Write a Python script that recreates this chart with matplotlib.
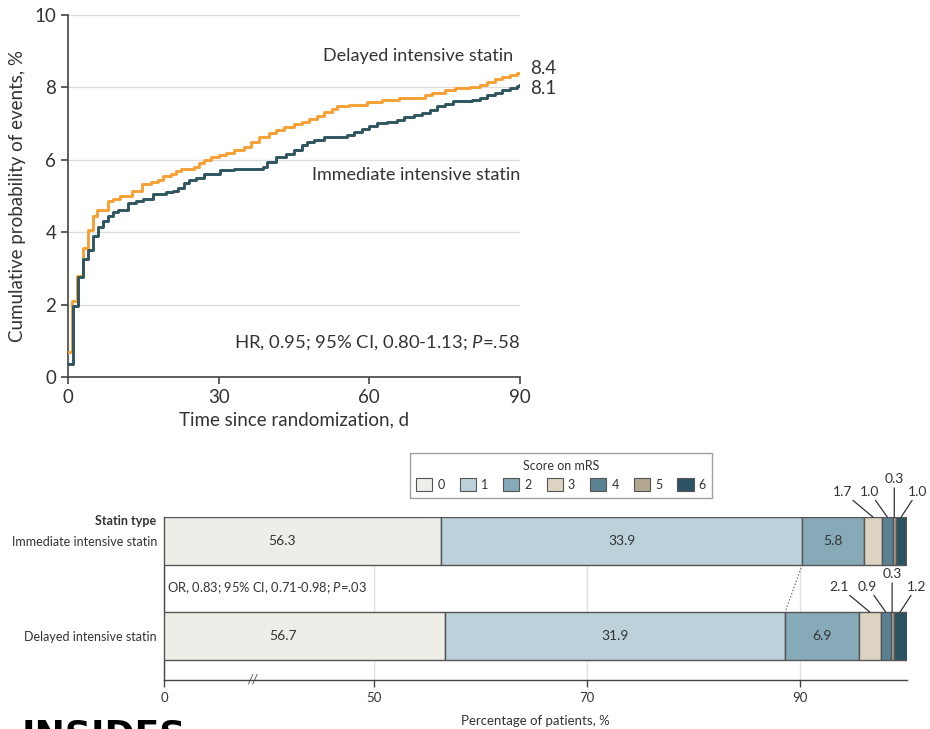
import numpy as np
import matplotlib
matplotlib.use('Agg')
import matplotlib.pyplot as plt
from matplotlib import font_manager
from matplotlib.patches import Patch

# Kaplan-Meier style cumulative event curves
delayed_days = [0, 0.7, 1.8, 2.9, 3.9, 4.9, 5.8, 8.0, 9.0, 10.4, 12.8, 14.8, 16.5, 18.0, 19.0,
                20.5, 21.5, 22.5, 25.0, 26.0, 27.0, 28.5, 30.0, 31.5, 33.0, 35.0, 36.5, 38.0,
                40.0, 41.5, 43.0, 45.0, 46.5, 48.0, 49.5, 51.0, 52.5, 53.5, 56.0, 59.5, 62.5,
                66.0, 71.0, 72.5, 75.0, 77.0, 80.0, 82.0, 83.5, 85.0, 86.5, 88.0, 89.5, 90]
delayed_vals = [0.7, 2.1, 2.8, 3.55, 4.05, 4.45, 4.62, 4.85, 4.92, 5.0, 5.15, 5.32, 5.38, 5.45,
                5.55, 5.6, 5.68, 5.75, 5.8, 5.9, 6.0, 6.07, 6.12, 6.2, 6.28, 6.35, 6.5, 6.62,
                6.75, 6.82, 6.9, 6.98, 7.05, 7.12, 7.22, 7.32, 7.4, 7.5, 7.52, 7.6, 7.65, 7.72,
                7.78, 7.85, 7.92, 7.98, 8.02, 8.08, 8.15, 8.22, 8.28, 8.35, 8.4, 8.4]

immediate_days = [0, 1.0, 2.0, 3.0, 4.0, 5.0, 6.0, 7.0, 8.0, 9.0, 10.0, 12.0, 13.5, 15.0, 17.0,
                  19.5, 21.0, 22.0, 23.0, 24.0, 25.5, 27.0, 29.5, 30.3, 33.0, 38.8, 39.6, 41.5,
                  43.5, 45.0, 46.5, 47.5, 49.0, 51.0, 55.5, 57.0, 58.5, 60.0, 61.5, 63.5, 65.5,
                  67.0, 68.8, 70.5, 72.0, 73.5, 75.0, 76.7, 80.5, 82.0, 83.5, 85.0, 86.5, 88.0,
                  89.5, 90]
immediate_vals = [0.35, 1.95, 2.75, 3.27, 3.5, 3.9, 4.15, 4.3, 4.45, 4.55, 4.6, 4.8, 4.85, 4.92,
                  5.05, 5.1, 5.15, 5.22, 5.35, 5.45, 5.5, 5.6, 5.62, 5.72, 5.75, 5.8, 5.95, 6.08,
                  6.15, 6.27, 6.4, 6.5, 6.55, 6.62, 6.68, 6.78, 6.85, 6.92, 7.02, 7.05, 7.1,
                  7.18, 7.24, 7.3, 7.38, 7.48, 7.55, 7.62, 7.66, 7.72, 7.78, 7.85, 7.92, 7.98,
                  8.05, 8.08]

# mRS distribution, %
groups = ['Immediate intensive statin', 'Delayed intensive statin']
mrs_scores = ['0', '1', '2', '3', '4', '5', '6']
immediate_mrs = [56.3, 33.9, 5.8, 1.7, 1.0, 0.3, 1.0]
delayed_mrs = [56.7, 31.9, 6.9, 2.1, 0.9, 0.3, 1.2]
mrs_colors = ['#EEEDE7', '#BDD1DA', '#86AAB8', '#DCD3C3', '#5B8292', '#B3A792', '#2B5361']

names = {f.name for f in font_manager.fontManager.ttflist}
main_font = 'Lato' if 'Lato' in names else 'DejaVu Sans'
narrow_font = 'Liberation Sans Narrow' if 'Liberation Sans Narrow' in names else main_font

plt.rcParams['font.family'] = [main_font, 'DejaVu Sans']
plt.rcParams['mathtext.fontset'] = 'custom'
plt.rcParams['mathtext.it'] = main_font + ':italic'
plt.rcParams['mathtext.rm'] = main_font

txt = '#333333'
spine = '#444444'

fig = plt.figure(figsize=(9.3, 7.29), dpi=100)

# ---------- top: cumulative events ----------
ax = fig.add_axes([68/930, 1-377/729, 452/930, 362/729])
ax.step(delayed_days, delayed_vals, where='post', color='#F7A035', lw=2.1, zorder=3)
ax.step(immediate_days, immediate_vals, where='post', color='#2E5560', lw=2.1, zorder=4)
ax.set_xlim(0, 90)
ax.set_ylim(0, 10)
ax.set_xticks([0, 30, 60, 90])
ax.set_yticks([0, 2, 4, 6, 8, 10])
ax.yaxis.grid(True, color='#dddddd', lw=1)
ax.set_axisbelow(True)
for s in ['top', 'right']:
    ax.spines[s].set_visible(False)
for s in ['left', 'bottom']:
    ax.spines[s].set_color(spine)
    ax.spines[s].set_linewidth(1.2)
ax.tick_params(labelsize=13.5, colors=spine, labelcolor=txt, length=5, width=1.2)
ax.set_xlabel('Time since randomization, d', fontsize=13.5, color=txt, labelpad=4)
ax.set_ylabel('Cumulative probability of events, %', fontsize=13.5, color=txt, labelpad=6)

ax.text(88.6, 8.87, 'Delayed intensive statin', ha='right', va='center', fontsize=13, color=txt)
ax.text(92, 8.53, '%.1f' % delayed_vals[-1], ha='left', va='center', fontsize=13.5, color=txt, clip_on=False)
ax.text(92, 7.98, '%.1f' % immediate_vals[-1], ha='left', va='center', fontsize=13.5, color=txt, clip_on=False)
ax.text(90, 5.58, 'Immediate intensive statin', ha='right', va='center', fontsize=13, color=txt)
ax.text(90, 0.94, 'HR, 0.95; 95% CI, 0.80-1.13; $P$=.58', ha='right', va='center', fontsize=13.3, color=txt)

# ---------- bottom: mRS stacked bars ----------
k = 0.3944  # compression of the 0-50 segment (broken axis)


def fwd(x):
    x = np.asarray(x, float)
    return np.where(x < 50, x * k, 50 * k + (x - 50))


def inv(y):
    y = np.asarray(y, float)
    return np.where(y < 50 * k, y / k, y - 50 * k + 50)


bx = fig.add_axes([164/930, 1-680/729, 742.5/930, 163/729])
bx.set_xscale('function', functions=(fwd, inv))
bx.set_xlim(0, 100)
bx.set_ylim(-0.463, 1.253)
bh = 0.505
ypos = [1, 0]
for row, yy in zip([immediate_mrs, delayed_mrs], ypos):
    left = np.concatenate([[0], np.cumsum(row)[:-1]])
    bx.barh([yy]*len(row), row, left=left, height=bh, color=mrs_colors,
            edgecolor='#555555', lw=1, zorder=3)
    for i in range(3):
        bx.text(left[i] + row[i]/2, yy, '%.1f' % row[i], ha='center', va='center',
                fontsize=10, color=txt, family=narrow_font, zorder=5)
    offs = [(-22, 14), (-13, 14), (0, 23), (12, 14)]
    for i, (dx, dy) in zip(range(3, 7), offs):
        xc = left[i] + row[i]/2
        bx.annotate('%.1f' % row[i], xy=(xc, yy + bh/2), xytext=(dx, dy),
                    textcoords='offset points', ha='center', va='bottom',
                    fontsize=10, color=txt, family=narrow_font, annotation_clip=False,
                    arrowprops=dict(arrowstyle='-', color='#333333', lw=0.9,
                                    shrinkA=0, shrinkB=0))

# dotted connector between the 0-1 / 2-6 boundaries
b_top = immediate_mrs[0] + immediate_mrs[1]
b_bot = delayed_mrs[0] + delayed_mrs[1]
bx.plot([b_top, b_bot], [1 - bh/2, bh/2], ls=':', color='#666666', lw=0.9, zorder=4)

bx.text(0.8, 0.5, 'OR, 0.83; 95% CI, 0.71-0.98; $P$=.03', ha='left', va='center',
        fontsize=9.3, color=txt, family=narrow_font)

bx.set_xticks([0, 50, 70, 90])
bx.set_xticklabels(['0', '50', '70', '90'], family=narrow_font)
bx.set_yticks(ypos)
bx.set_yticklabels(groups, family=narrow_font)
bx.tick_params(axis='y', length=0, pad=5, labelsize=9, labelcolor=txt)
bx.tick_params(axis='x', length=5, width=1, colors=spine, labelcolor=txt, labelsize=9.5)
bx.text(-0.01, 1.21, 'Statin type', transform=bx.get_yaxis_transform(), ha='right', va='center',
        fontsize=9, fontweight='bold', color=txt, family=narrow_font)
bx.xaxis.grid(True, color='#e2e2e2', lw=1, zorder=0)
bx.set_axisbelow(True)
for s in ['top', 'right']:
    bx.spines[s].set_visible(False)
for s in ['left', 'bottom']:
    bx.spines[s].set_color(spine)
    bx.spines[s].set_linewidth(1)
bx.text(21, -0.463, '//', ha='center', va='center', fontsize=9, color=spine, style='italic',
        clip_on=False, zorder=6)
bx.set_xlabel('Percentage of patients, %', fontsize=9.5, color=txt, family=narrow_font, labelpad=8)

handles = [Patch(facecolor=c, edgecolor='#555555', lw=0.8) for c in mrs_colors]
leg = fig.legend(handles, mrs_scores, ncol=7, title='Score on mRS', loc='center',
                 bbox_to_anchor=(561/930, 1-475.5/729), frameon=True, fancybox=False,
                 edgecolor='#888888', handlelength=1.3, handleheight=1.3, columnspacing=1.2,
                 handletextpad=0.4, prop={'family': narrow_font, 'size': 9},
                 title_fontproperties={'family': narrow_font, 'size': 9},
                 borderpad=0.5)
leg.get_frame().set_linewidth(1)
for t in leg.get_texts():
    t.set_color(txt)
leg.get_title().set_color(txt)

fig.text(22/930, 1-719/729, 'INSIDES', fontsize=26, fontweight='heavy', va='top', ha='left',
         color='black', family='DejaVu Sans')

fig.savefig('out.png', dpi=100)
